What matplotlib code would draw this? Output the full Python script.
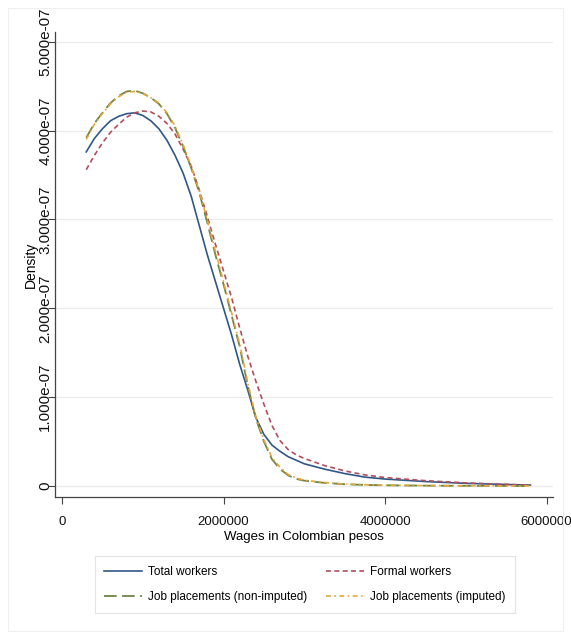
import numpy as np
import matplotlib
matplotlib.use("Agg")
import matplotlib.pyplot as plt
from matplotlib.patches import Rectangle

# Kernel density estimates of monthly wages (density in units of 1e-07)
wages = [300000, 400000, 500000, 600000, 700000, 800000, 900000, 1000000,
         1100000, 1200000, 1300000, 1400000, 1500000, 1600000, 1700000,
         1800000, 1900000, 2000000, 2100000, 2200000, 2300000, 2400000,
         2500000, 2600000, 2700000, 2800000, 2900000, 3000000, 3250000,
         3500000, 3750000, 4000000, 4500000, 5000000, 5500000, 5800000]

total_workers = [3.76, 3.91, 4.02, 4.11, 4.16, 4.19, 4.20, 4.17, 4.11, 4.02,
                 3.89, 3.72, 3.52, 3.26, 2.93, 2.60, 2.30, 2.00, 1.70, 1.37,
                 1.08, 0.77, 0.58, 0.46, 0.39, 0.33, 0.29, 0.25, 0.19, 0.14,
                 0.10, 0.078, 0.05, 0.03, 0.017, 0.01]

formal_workers = [3.56, 3.72, 3.86, 3.98, 4.07, 4.15, 4.20, 4.22, 4.21, 4.16,
                  4.08, 3.96, 3.79, 3.60, 3.33, 3.03, 2.72, 2.42, 2.12, 1.78,
                  1.46, 1.18, 0.92, 0.68, 0.51, 0.41, 0.35, 0.31, 0.23, 0.17,
                  0.125, 0.095, 0.06, 0.035, 0.018, 0.01]

placements_nonimp = [3.92, 4.08, 4.20, 4.31, 4.39, 4.44, 4.45, 4.42, 4.37, 4.30,
                     4.19, 4.03, 3.82, 3.58, 3.30, 2.96, 2.60, 2.27, 1.92, 1.57,
                     1.13, 0.76, 0.50, 0.30, 0.19, 0.12, 0.08, 0.06, 0.035, 0.02,
                     0.012, 0.008, 0.004, 0.002, 0.001, 0.0]

placements_imp = [3.90, 4.07, 4.19, 4.30, 4.38, 4.43, 4.44, 4.42, 4.37, 4.31,
                  4.20, 4.05, 3.84, 3.60, 3.32, 2.99, 2.64, 2.30, 1.95, 1.60,
                  1.16, 0.78, 0.52, 0.32, 0.21, 0.13, 0.09, 0.065, 0.04, 0.022,
                  0.014, 0.009, 0.005, 0.003, 0.001, 0.0]

series_labels = ["Total workers", "Formal workers",
                 "Job placements (non-imputed)", "Job placements (imputed)"]

x_ticks = [0, 2000000, 4000000, 6000000]
x_tick_labels = ["0", "2000000", "4000000", "6000000"]
y_ticks = [0, 1e-7, 2e-7, 3e-7, 4e-7, 5e-7]
y_tick_labels = ["0", "1.000e-07", "2.000e-07", "3.000e-07", "4.000e-07", "5.000e-07"]

font = ["Liberation Sans", "DejaVu Sans"]

fig = plt.figure(figsize=(5.71, 6.39), dpi=100)
ax = fig.add_axes([0.0963, 0.2222, 0.8722, 0.7278])

# faint outer frame of the graph region
fig.patches.append(Rectangle((8 / 571, 8 / 639), 555 / 571, 623 / 639,
                             transform=fig.transFigure, fill=False,
                             edgecolor="#efefef", linewidth=0.8))

scale = 1e-7
l_total, = ax.plot(wages, np.array(total_workers) * scale, color="#2f5888",
                   lw=1.2, label=series_labels[0])
l_formal, = ax.plot(wages, np.array(formal_workers) * scale, color="#b24e5c",
                    lw=1.2, dashes=(3, 2), label=series_labels[1])
l_nonimp, = ax.plot(wages, np.array(placements_nonimp) * scale, color="#6f8444",
                    lw=1.3, dashes=(7, 3), label=series_labels[2])
l_imp, = ax.plot(wages, np.array(placements_imp) * scale, color="#e6a83a",
                 lw=1.2, dashes=(3, 2, 1, 2), label=series_labels[3])

ax.set_xlim(-87000, 6080000)
ax.set_ylim(-0.124e-7, 5.11e-7)

ax.set_xticks(x_ticks)
ax.set_xticklabels(x_tick_labels, fontsize=9.5, family=font)
ax.set_yticks(y_ticks)
ax.set_yticklabels(y_tick_labels, fontsize=11, family=font,
                   rotation=90, va="center")

ax.grid(axis="y", color="#ececec", lw=0.9)
ax.set_axisbelow(True)
for side in ["top", "right"]:
    ax.spines[side].set_visible(False)
for side in ["left", "bottom"]:
    ax.spines[side].set_color("#444444")
    ax.spines[side].set_linewidth(0.9)
ax.tick_params(axis="both", direction="out", length=5, width=0.8,
               color="#444444", labelcolor="#111111")
ax.tick_params(axis="x", pad=9)
ax.tick_params(axis="y", pad=-3)

ax.set_xlabel("Wages in Colombian pesos", fontsize=9.5, family=font,
              labelpad=2)
ax.set_ylabel("Density", fontsize=10, family=font, labelpad=0)

# two rows: totals on top, job placements below
leg = fig.legend([l_total, l_nonimp, l_formal, l_imp],
                 [series_labels[0], series_labels[2], series_labels[1], series_labels[3]],
                 loc="center", ncol=2, bbox_to_anchor=(0.534, 0.0853),
                 frameon=True, fancybox=False, edgecolor="#dcdcdc",
                 prop={"family": font, "size": 8.5}, handlelength=3.2,
                 columnspacing=1.6, handletextpad=0.5, borderpad=0.8,
                 labelspacing=1.15, borderaxespad=0)
leg.get_frame().set_linewidth(0.8)

fig.savefig("out.png", dpi=100)
